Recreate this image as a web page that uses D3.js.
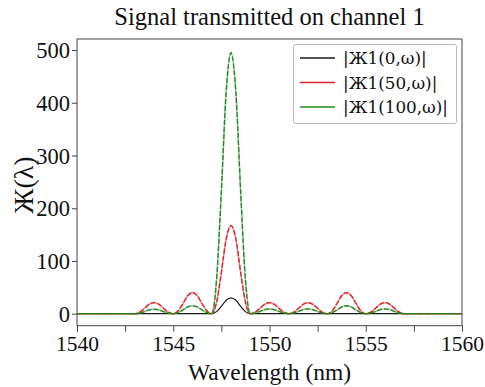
<!DOCTYPE html>
<html>
<head>
<meta charset="utf-8">
<script src="https://cdn.jsdelivr.net/npm/d3@7"></script>
<style>
  html, body { margin: 0; padding: 0; background: #fff; }
  svg { display: block; }
  .serif { font-family: "Liberation Serif", "DejaVu Serif", serif; }
</style>
</head>
<body>
<svg id="chart" width="485" height="387"></svg>
<script>
// ---- data ----
const wavelength = [1540,
  1543, 1543.25, 1543.5, 1543.75, 1544, 1544.25, 1544.5, 1544.75,
  1545, 1545.25, 1545.5, 1545.75, 1546, 1546.25, 1546.5, 1546.75,
  1547, 1547.25, 1547.5, 1547.75, 1548, 1548.25, 1548.5, 1548.75,
  1549, 1549.25, 1549.5, 1549.75, 1550, 1550.25, 1550.5, 1550.75,
  1551, 1551.25, 1551.5, 1551.75, 1552, 1552.25, 1552.5, 1552.75,
  1553, 1553.25, 1553.5, 1553.75, 1554, 1554.25, 1554.5, 1554.75,
  1555, 1555.25, 1555.5, 1555.75, 1556, 1556.25, 1556.5, 1556.75,
  1557, 1560];

const ch0 = [0,
  0, 0, 0, 0, 0, 0, 0, 0,
  0, 0, 0, 0, 0, 0, 0, 0,
  0, 3.9, 14, 25.5, 30, 25.5, 14, 3.9,
  0, 0, 0, 0, 0, 0, 0, 0,
  0, 0, 0, 0, 0, 0, 0, 0,
  0, 0, 0, 0, 0, 0, 0, 0,
  0, 0, 0, 0, 0, 0, 0, 0,
  0, 0];

const ch50 = [0,
  0, 2.7, 9.9, 17.9, 21, 17.9, 9.9, 2.7,
  0, 5.2, 18.8, 34, 40, 34, 18.8, 5.2,
  0, 21.7, 78.5, 142, 167, 142, 78.5, 21.7,
  0, 2.7, 9.9, 17.9, 21, 17.9, 9.9, 2.7,
  0, 2.7, 9.9, 17.9, 21, 17.9, 9.9, 2.7,
  0, 5.2, 18.8, 34, 40, 34, 18.8, 5.2,
  0, 2.7, 9.9, 17.9, 21, 17.9, 9.9, 2.7,
  0, 0];

const ch100 = [0,
  0, 1.1, 4, 7.2, 8.5, 7.2, 4, 1.1,
  0, 2, 7, 12.8, 15, 12.8, 7, 2,
  0, 64, 233, 421, 495, 421, 233, 64,
  0, 1.2, 4.2, 7.7, 9, 7.7, 4.2, 1.2,
  0, 1.2, 4.2, 7.7, 9, 7.7, 4.2, 1.2,
  0, 2, 7, 12.8, 15, 12.8, 7, 2,
  0, 1.2, 4.2, 7.7, 9, 7.7, 4.2, 1.2,
  0, 0];

const seriesNames = ["|Ж1(0,ω)|", "|Ж1(50,ω)|", "|Ж1(100,ω)|"];
const seriesColors = ["#1a1a1a", "#e02020", "#1f8a1f"];
const xTicks = [1540, 1542.5, 1545, 1547.5, 1550, 1552.5, 1555, 1557.5, 1560];
const xTickLabels = [1540, 1545, 1550, 1555, 1560];
const yTicks = [0, 100, 200, 300, 400, 500];
const title = "Signal transmitted on channel 1";
const xLabel = "Wavelength (nm)";
const yLabel = "Ж(λ)";

// ---- layout ----
const svg = d3.select("#chart");
const mLeft = 77, mRight = 462, mTop = 39, mBottom = 325.7;
const x = d3.scaleLinear().domain([1540, 1560]).range([mLeft, mRight]);
const y = d3.scaleLinear().domain([-22.8, 520.9]).range([mBottom, mTop]);
const serif = "Liberation Serif, DejaVu Serif, serif";

// title
svg.append("text").attr("class", "serif")
  .attr("x", (mLeft + mRight) / 2).attr("y", 25)
  .attr("text-anchor", "middle")
  .attr("font-family", serif).attr("font-size", 24.5).attr("fill", "#111")
  .text(title);

// clip
svg.append("clipPath").attr("id", "clip")
  .append("rect").attr("x", mLeft).attr("y", mTop).attr("width", mRight - mLeft).attr("height", mBottom - mTop);

// lines
const series = [ch0, ch50, ch100];
const plot = svg.append("g").attr("clip-path", "url(#clip)");
series.forEach((vals, i) => {
  const pts = wavelength.map((w, k) => [w, vals[k]]);
  const line = d3.line().x(d => x(d[0])).y(d => y(d[1])).curve(d3.curveMonotoneX);
  if (i === 0) {
    plot.append("path").attr("d", line(pts))
      .attr("fill", "none").attr("stroke", seriesColors[i]).attr("stroke-width", 1.2);
  } else {
    plot.append("path").attr("d", line(pts))
      .attr("fill", "none").attr("stroke", seriesColors[i]).attr("stroke-opacity", 0.45).attr("stroke-width", 1.6);
    plot.append("path").attr("d", line(pts))
      .attr("fill", "none").attr("stroke", seriesColors[i]).attr("stroke-width", 1.3)
      .attr("stroke-dasharray", "5,2");
  }
});

// axes
const xAxis = d3.axisBottom(x).tickValues(xTicks).tickSize(6).tickPadding(4)
  .tickFormat(d => xTickLabels.includes(d) ? d3.format("d")(d) : "");
const gx = svg.append("g").attr("transform", `translate(0,${mBottom})`).call(xAxis)
  .attr("font-family", serif).attr("font-size", 21.5);
gx.select(".domain").remove();
gx.selectAll("line").attr("stroke", "#444");
gx.selectAll("text").attr("class", "serif").attr("fill", "#111");

const yAxis = d3.axisLeft(y).tickValues(yTicks).tickSize(5).tickPadding(2).tickFormat(d3.format("d"));
const gy = svg.append("g").attr("transform", `translate(${mLeft},0)`).call(yAxis)
  .attr("font-family", serif).attr("font-size", 22.5);
gy.select(".domain").remove();
gy.selectAll("line").attr("stroke", "#444");
gy.selectAll("text").attr("class", "serif").attr("dy", "0.34em").attr("fill", "#111");

// frame
svg.append("rect").attr("x", mLeft).attr("y", mTop).attr("width", mRight - mLeft).attr("height", mBottom - mTop)
  .attr("fill", "none").attr("stroke", "#444").attr("stroke-width", 1);

// axis labels
svg.append("text").attr("class", "serif")
  .attr("x", (mLeft + mRight) / 2).attr("y", 380)
  .attr("text-anchor", "middle")
  .attr("font-family", serif).attr("font-size", 23.5).attr("fill", "#111")
  .text(xLabel);
svg.append("text").attr("class", "serif")
  .attr("transform", "translate(33,185) rotate(-90)")
  .attr("text-anchor", "middle")
  .attr("font-family", serif).attr("font-size", 28).attr("fill", "#111")
  .text(yLabel);

// legend
const lg = svg.append("g");
lg.append("rect").attr("x", 293.5).attr("y", 44.5).attr("width", 163).attr("height", 79)
  .attr("rx", 2).attr("fill", "#fff").attr("stroke", "#bbb").attr("stroke-width", 1);
seriesNames.forEach((name, i) => {
  const yy = 58 + i * 24.5;
  lg.append("line").attr("x1", 300).attr("x2", 335).attr("y1", yy).attr("y2", yy)
    .attr("stroke", seriesColors[i]).attr("stroke-width", 1.3);
  lg.append("text").attr("x", 343).attr("y", yy + 6)
    .attr("font-family", "DejaVu Serif, serif").attr("font-size", 16.8).attr("fill", "#111")
    .text(name);
});
</script>
</body>
</html>
